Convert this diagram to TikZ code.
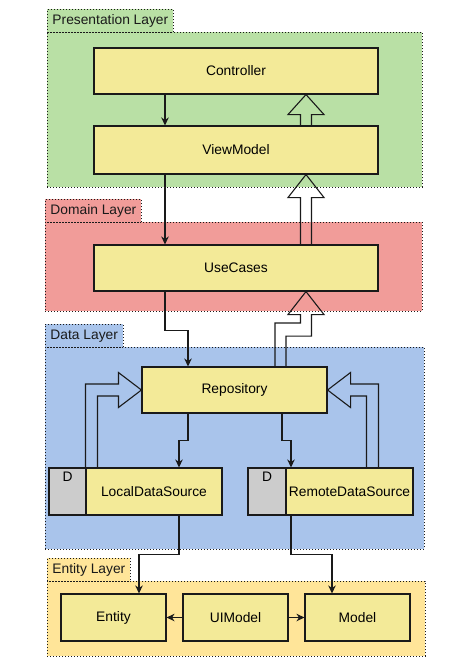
\documentclass[tikz,border=0pt]{standalone}
\usepackage{fontspec}
\setmainfont{Liberation Sans}
\usetikzlibrary{arrows.meta,calc}
\definecolor{presfill}{HTML}{B9E0A5}
\definecolor{domfill}{HTML}{F19C99}
\definecolor{datafill}{HTML}{A9C4EB}
\definecolor{entfill}{HTML}{FFE599}
\definecolor{boxfill}{HTML}{F3EA98}
\definecolor{dfill}{HTML}{CCCCCC}
\definecolor{ink}{HTML}{1A1A1A}
\tikzset{
  layer/.style={draw=ink, line width=0.9pt, dash pattern=on 1pt off 2pt, anchor=north west, inner sep=0pt},
  layerlabel/.style={draw=ink, line width=0.9pt, dash pattern=on 1pt off 2pt, anchor=north west, inner xsep=5pt, inner ysep=0pt, minimum height=23pt, text=ink, font=\fontsize{13.8}{16}\selectfont},
  box/.style={draw=ink, fill=boxfill, line width=1.1pt, inner sep=0pt, font=\fontsize{13.8}{16}\selectfont},
  dbox/.style={draw=ink, fill=dfill, line width=1.1pt, inner sep=0pt},
  conn/.style={draw=ink, line width=1.1pt, -{Stealth[length=8pt,width=7.5pt,inset=2.5pt]}},
  flex/.style={draw=ink, line width=1.1pt, line join=miter}
}
\begin{document}
\begin{tikzpicture}[x=1pt,y=-1pt]
\useasboundingbox (0,0) rectangle (474,672);
% layers
\node[layer, fill=presfill, minimum width=375pt, minimum height=155pt] (preslayer) at (47,32) {};
\node[layerlabel, fill=presfill] (preslabel) at (47,9) {Presentation Layer};
\node[layer, fill=domfill, minimum width=377pt, minimum height=89pt] (domlayer) at (45,222) {};
\node[layerlabel, fill=domfill] (domlabel) at (45,199) {Domain Layer};
\node[layer, fill=datafill, minimum width=379pt, minimum height=202pt] (datalayer) at (45,347) {};
\node[layerlabel, fill=datafill] (datalabel) at (45,324) {Data Layer};
\node[layer, fill=entfill, minimum width=378pt, minimum height=75pt] (entlayer) at (47,581) {};
\node[layerlabel, fill=entfill] (entlabel) at (47,558) {Entity Layer};
% nodes
\node[box, minimum width=284pt, minimum height=46pt] (ctrl) at (236,71) {Controller};
\node[box, minimum width=284pt, minimum height=48pt] (vm) at (236,150) {ViewModel};
\node[box, minimum width=284pt, minimum height=46pt] (uc) at (236,268) {UseCases};
\node[box, minimum width=185pt, minimum height=46pt] (repo) at (234.5,390) {Repository};
\node[dbox, minimum width=37pt, minimum height=47pt] (localD) at (67.5,491.5) {};
\node[box, minimum width=136pt, minimum height=47pt] (local) at (154,491.5) {LocalDataSource};
\node[dbox, minimum width=38pt, minimum height=47pt] (remoteD) at (267,491.5) {};
\node[box, minimum width=127pt, minimum height=47pt] (remote) at (349.5,491.5) {RemoteDataSource};
\node[font=\fontsize{13.8}{16}\selectfont, inner sep=0pt] (localDt) at (67.5,477) {D};
\node[font=\fontsize{13.8}{16}\selectfont, inner sep=0pt] (remoteDt) at (267,477) {D};
\node[box, minimum width=105pt, minimum height=47pt] (ent) at (113.5,617.5) {Entity};
\node[box, minimum width=105pt, minimum height=47pt] (uim) at (235.5,617.5) {UIModel};
\node[box, minimum width=105pt, minimum height=47pt] (model) at (357.5,617.5) {Model};
% plain connectors
\draw[conn] ([xshift=-71pt]ctrl.south) -- ([xshift=-71pt]vm.north);
\draw[conn] ([xshift=-71pt]vm.south) -- ([xshift=-71pt]uc.north);
\draw[conn] ([xshift=-71pt]uc.south) -- ++(0,39) -| ([xshift=-46.5pt]repo.north);
\draw[conn] ([xshift=-46.5pt]repo.south) -- ++(0,27) -| ([xshift=25pt]local.north);
\draw[conn] ([xshift=47.5pt]repo.south) -- ++(0,27) -| ([xshift=-58.5pt]remote.north);
\draw[conn] ([xshift=25pt]local.south) -- ++(0,39) -| ([xshift=25.5pt]ent.north);
\draw[conn] ([xshift=-58.5pt]remote.south) -- ++(0,39) -| ([xshift=-25.5pt]model.north);
\draw[conn] (uim.west) -- (ent.east);
\draw[conn] (uim.east) -- (model.west);
% flex arrows
\coordinate (f1a) at ([xshift=70pt]vm.north);
\coordinate (f1b) at ([xshift=70pt]ctrl.south);
\draw[flex] ([xshift=-5.5pt]f1a) -- ([xshift=-5.5pt,yshift=-20pt]f1b) -- ([xshift=-18pt,yshift=-20pt]f1b) -- (f1b) -- ([xshift=18pt,yshift=-20pt]f1b) -- ([xshift=5.5pt,yshift=-20pt]f1b) -- ([xshift=5.5pt]f1a);
\coordinate (f2a) at ([xshift=70pt]uc.north);
\coordinate (f2b) at ([xshift=70pt]vm.south);
\draw[flex] ([xshift=-5.5pt]f2a) -- ([xshift=-5.5pt,yshift=-23pt]f2b) -- ([xshift=-18pt,yshift=-23pt]f2b) -- (f2b) -- ([xshift=18pt,yshift=-23pt]f2b) -- ([xshift=5.5pt,yshift=-23pt]f2b) -- ([xshift=5.5pt]f2a);
\coordinate (f3a) at ([xshift=46pt]repo.north);
\coordinate (f3b) at ([xshift=70pt]uc.south);
\draw[flex] ([xshift=-5.5pt]f3a) -- ++(0,-43.5) -| ([xshift=-5.5pt,yshift=-23pt]f3b) -- ([xshift=-18pt,yshift=-23pt]f3b) -- (f3b) -- ([xshift=18pt,yshift=-23pt]f3b) -- ([xshift=5.5pt,yshift=-23pt]f3b) -- ++(0,21.5) -| ([xshift=5.5pt]f3a);
\coordinate (f4a) at ([xshift=-62.5pt]local.north);
\coordinate (f4b) at (repo.west);
\draw[flex] ([xshift=-6pt]f4a) |- ([xshift=-23pt,yshift=6pt]f4b) -- ([xshift=-23pt,yshift=17.5pt]f4b) -- (f4b) -- ([xshift=-23pt,yshift=-17.5pt]f4b) -- ([xshift=-23pt,yshift=-6pt]f4b) -| ([xshift=6pt]f4a);
\coordinate (f5a) at ([xshift=23pt]remote.north);
\coordinate (f5b) at (repo.east);
\draw[flex] ([xshift=6pt]f5a) |- ([xshift=23pt,yshift=6pt]f5b) -- ([xshift=23pt,yshift=17.5pt]f5b) -- (f5b) -- ([xshift=23pt,yshift=-17.5pt]f5b) -- ([xshift=23pt,yshift=-6pt]f5b) -| ([xshift=-6pt]f5a);
\end{tikzpicture}
\end{document}
